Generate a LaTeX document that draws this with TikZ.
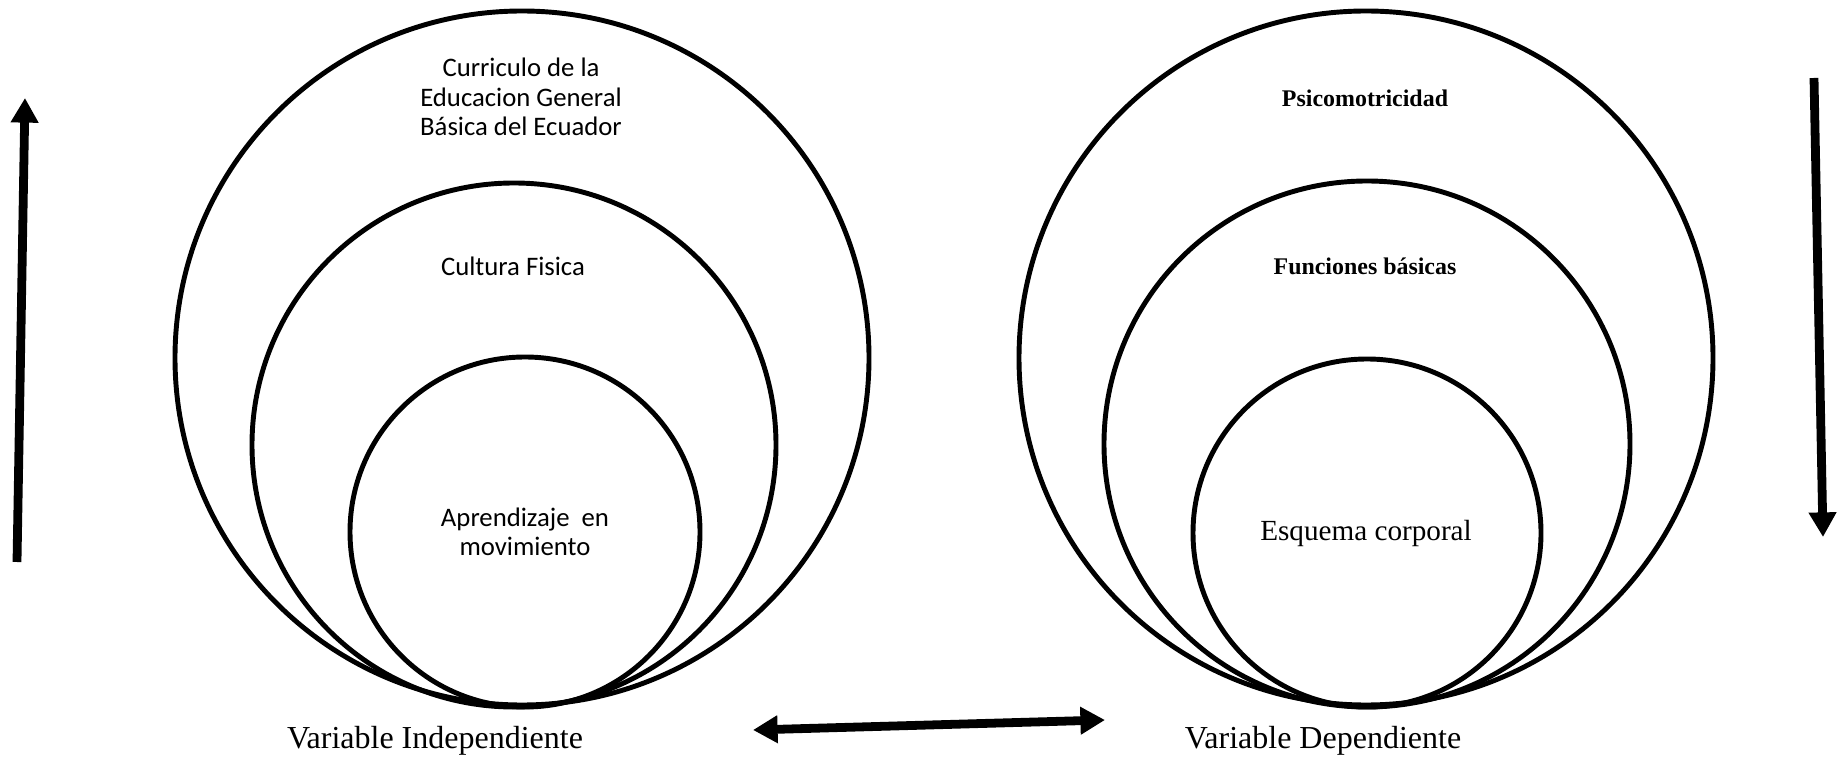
\documentclass[tikz,border=0pt]{standalone}
\usepackage{fontspec}
\setmainfont{Liberation Serif}
\newfontfamily\calibrifont{Carlito}
\usetikzlibrary{arrows.meta}
\begin{document}
\begin{tikzpicture}[x=0.01cm, y=-0.01cm,
  ring/.style={line width=1.4pt},
  bigarrow/.style={line width=2.5pt, -{Triangle[length=7pt,width=7.5pt]}},
  twoarrow/.style={line width=2.5pt, {Triangle[length=7pt,width=7.5pt]}-{Triangle[length=7pt,width=7.5pt]}},
  lefttext/.style={align=center, font=\calibrifont\fontsize{7.6}{8.3}\selectfont},
  righttext/.style={align=center, font=\bfseries\fontsize{6.8}{8}\selectfont},
  vartext/.style={font=\fontsize{9.1}{11}\selectfont}]
\useasboundingbox (0,0) rectangle (1845,761);

% variable independiente
\draw[ring] (522,358) circle (347);
\draw[ring] (514,445) circle (262);
\draw[ring] (525,532) circle (175);
\node[lefttext] (curriculo) at (521,97) {Curriculo de la\\Educacion General\\Básica del Ecuador};
\node[lefttext] (cultura) at (513,266) {Cultura Fisica};
\node[lefttext] (aprendizaje) at (525,532) {Aprendizaje~ en\\movimiento};
\node[vartext] (indep) at (435,741) {Variable Independiente};

% variable dependiente
\draw[ring] (1366,358) circle (347);
\draw[ring] (1367,444) circle (263);
\draw[ring] (1367,533) circle (174);
\node[righttext] (psico) at (1365,98) {Psicomotricidad};
\node[righttext] (funciones) at (1365,266) {Funciones básicas};
\node[font=\fontsize{8.3}{10}\selectfont] (esquema) at (1366,533) {Esquema corporal};
\node[vartext] (dep) at (1323,741) {Variable Dependiente};

% flechas
\coordinate (upbot) at (17,562);
\coordinate (uptop) at (25,98);
\coordinate (downtop) at (1814,78);
\coordinate (downbot) at (1823,537);
\coordinate (linkleft) at (753,730);
\coordinate (linkright) at (1105,720);
\draw[bigarrow] (upbot) -- (uptop);
\draw[bigarrow] (downtop) -- (downbot);
\draw[twoarrow] (linkleft) -- (linkright);

\end{tikzpicture}
\end{document}
